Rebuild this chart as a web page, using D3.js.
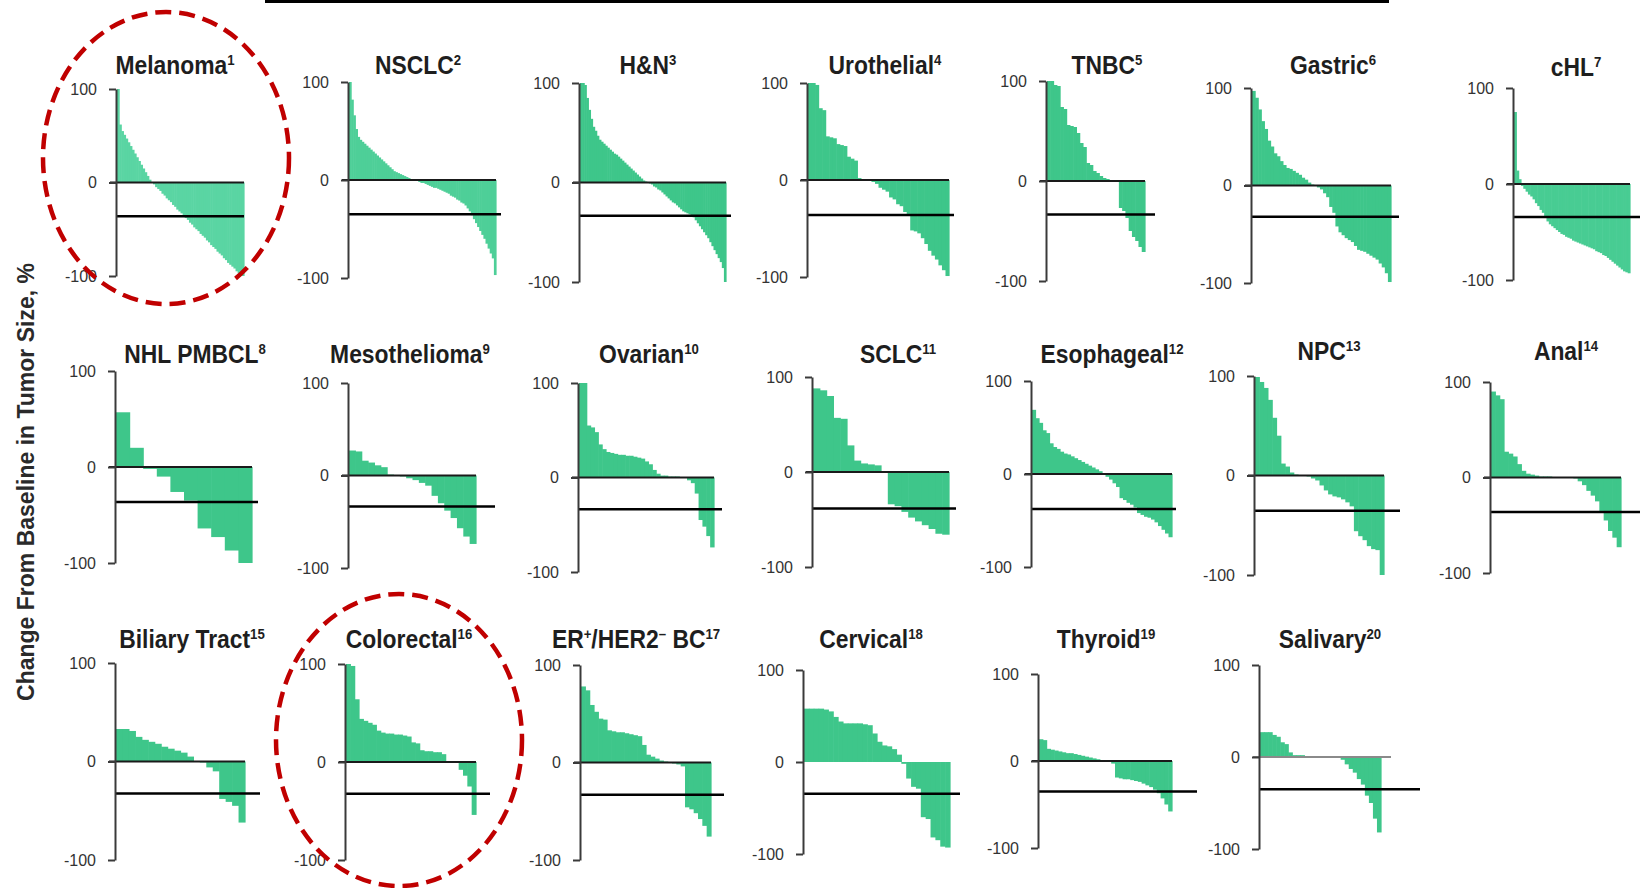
<!DOCTYPE html>
<html>
<head>
<meta charset="utf-8">
<script src="https://cdn.jsdelivr.net/npm/d3@7"></script>
<style>
  body { margin: 0; background: #fff; }
  text { font-family: "Liberation Sans", Arial, sans-serif; }
</style>
</head>
<body>
<div id="chart"></div>
<script>
// Width and height
var chart_width     =   1640;
var chart_height    =   888;
var barColor        =   '#3ec68a';
var ringColor       =   '#c00000';

// Panel titles (^...^ marks a superscript) and reference numbers
var titles = [
    'Melanoma', 'NSCLC', 'H&N', 'Urothelial', 'TNBC', 'Gastric', 'cHL',
    'NHL PMBCL', 'Mesothelioma', 'Ovarian', 'SCLC', 'Esophageal', 'NPC', 'Anal',
    'Biliary Tract', 'Colorectal', 'ER^+^/HER2^\u2013^ BC', 'Cervical', 'Thyroid', 'Salivary'
];
var refs = ['1','2','3','4','5','6','7','8','9','10','11','12','13','14','15','16','17','18','19','20'];
var tickValues = [-100, 0, 100];

// -30% style response line, as drawn in each panel
var thresholds = [-36, -35, -33.5, -36, -33.5, -32, -34.5,
                  -36.5, -33.5, -33.5, -38.5, -37.5, -35.5, -36,
                  -32.5, -32.5, -33, -34.5, -35, -35];

// Best % change per patient, sorted
var melanoma = [100, 62, 55, 51, 47, 43, 39, 35, 31, 27, 23, 19, 15, 11, 7, 3, 0, -2, -5, -7,
    -9, -12, -14, -17, -19, -21, -24, -26, -29, -31, -33, -36, -38, -40, -43, -45, -48, -50, -52, -55,
    -57, -59, -62, -64, -67, -69, -71, -74, -76, -78, -81, -83, -86, -88, -90, -92, -95, -97, -99, -100];
var nsclc = [100, 82, 66, 52, 44, 41, 39, 37, 35, 33, 31, 29, 27, 25, 23, 21, 19, 17, 15, 13,
    11, 9, 8, 7, 6, 5, 4, 3, 2, 1, 0, -1, -1, -2, -3, -3, -4, -5, -6, -7,
    -8, -8, -9, -10, -11, -12, -13, -14, -16, -17, -18, -20, -21, -23, -24, -26, -29, -32, -36, -40,
    -44, -48, -52, -56, -60, -65, -70, -75, -80, -97];
var hn = [100, 100, 98, 85, 73, 64, 56, 52, 47, 43, 41, 39, 37, 35, 33, 31, 29, 28, 26, 24,
    22, 20, 18, 16, 14, 12, 10, 8, 6, 4, 2, 1, 0, -1, -2, -4, -5, -7, -8, -10,
    -12, -14, -16, -18, -20, -21, -23, -25, -27, -29, -30, -31, -32, -33, -35, -38, -41, -44, -47, -50,
    -53, -56, -60, -64, -68, -72, -76, -80, -86, -100];
var urothelial = [100, 100, 98, 74, 72, 45, 44, 43, 37, 36, 35, 24, 22, 20, 2, 1, 0, -1, -2, -4,
    -8, -10, -12, -18, -20, -25, -27, -33, -35, -52, -53, -55, -60, -66, -73, -78, -82, -88, -93, -99];
var tnbc = [100, 100, 96, 95, 74, 72, 56, 55, 54, 48, 38, 34, 18, 16, 10, 8, 5, 3, 2, 1,
    0, -1, -27, -30, -37, -50, -56, -60, -66, -71];
var gastric = [97, 90, 78, 66, 58, 46, 40, 33, 30, 25, 21, 18, 17, 15, 13, 11, 8, 6, 3, 1,
    0, -2, -4, -8, -12, -22, -28, -42, -48, -51, -54, -56, -58, -62, -66, -67, -68, -70, -72, -74,
    -76, -80, -84, -90, -99];
var chl = [75, 14, 5, -2, -5, -8, -11, -13, -16, -20, -23, -27, -30, -35, -39, -42, -44, -46, -48, -50,
    -52, -53, -55, -56, -57, -59, -60, -61, -62, -63, -64, -65, -66, -67, -68, -70, -71, -72, -74, -75,
    -77, -79, -81, -83, -85, -87, -89, -91, -92, -93];
var nhl = [57, 20, -2, -10, -26, -35, -64, -73, -87, -100];
var meso = [27, 26, 16, 14, 11, 9, 1, 0, -1, -3, -5, -8, -11, -22, -30, -38, -46, -57, -66, -74];
var ovarian = [100, 100, 55, 53, 48, 35, 30, 27, 26, 25, 24, 24, 23, 23, 22, 21, 20, 17, 14, 8,
    4, 2, 2, 1, 1, 1, 0, 0, -3, -6, -17, -45, -52, -62, -74];
var sclc = [88, 86, 80, 57, 56, 28, 12, 9, 8, 7, 0, -34, -36, -42, -48, -52, -56, -60, -65, -66];
var esophageal = [69, 60, 55, 47, 44, 33, 29, 27, 24, 22, 21, 19, 17, 15, 13, 11, 9, 7, 5, 3,
    0, -3, -6, -10, -14, -26, -28, -31, -33, -36, -42, -44, -46, -47, -49, -52, -56, -60, -64, -68];
var npc = [99, 94, 88, 76, 58, 40, 12, 9, 3, 1, 0, 0, -1, -3, -5, -10, -15, -19, -21, -22,
    -24, -27, -31, -56, -61, -65, -71, -74, -75, -100];
var anal = [90, 86, 82, 27, 25, 22, 14, 7, 4, 3, 2, 1, 1, 1, 0, 0, 0, 0, 0, -1,
    -4, -8, -14, -19, -25, -35, -45, -56, -63, -73];
var biliary = [33, 33, 31, 25, 22, 20, 18, 15, 13, 11, 9, 5, 0, -1, -6, -10, -38, -41, -45, -62];
var colorectal = [100, 98, 64, 44, 42, 40, 38, 32, 30, 29, 29, 28, 28, 27, 26, 20, 19, 12, 11, 11,
    10, 10, 8, 1, 1, 0, -8, -14, -25, -54];
var erHer2 = [78, 74, 59, 52, 45, 44, 33, 32, 31, 31, 30, 29, 28, 27, 18, 8, 6, 4, 2, 1,
    0, -1, -2, -4, -46, -48, -52, -58, -65, -76];
var cervical = [58, 58, 58, 58, 57, 55, 49, 44, 42, 42, 42, 42, 41, 40, 31, 22, 18, 17, 14, 8,
    -2, -18, -27, -29, -60, -62, -82, -85, -92, -93];
var thyroid = [25, 24, 14, 13, 12, 11, 10, 9, 9, 8, 7, 6, 5, 4, 3, 2, 1, 0, -1, -3,
    -19, -20, -21, -21, -22, -23, -24, -26, -28, -30, -33, -37, -43, -50, -58];
var salivary = [27, 27, 27, 24, 22, 16, 14, 5, 2, 2, 2, 1, 1, 1, 1, 1, 0, 0, 0, 0,
    -3, -8, -13, -17, -24, -30, -42, -50, -67, -82];

var panelValues = [melanoma, nsclc, hn, urothelial, tnbc, gastric, chl,
                   nhl, meso, ovarian, sclc, esophageal, npc, anal,
                   biliary, colorectal, erHer2, cervical, thyroid, salivary];

// Panel placement: axis x, y of +100, y of -100, end of bars, end of response line,
// title centre x, title baseline, zero line style, bar tint
var layout = [
    { x: 116,  top: 89,  bottom: 276, end: 244,  lineEnd: 244,  tx: 175,  ty: 74,  zero: 'dark', fill: '#5ad5a3' },
    { x: 348,  top: 82,  bottom: 278, end: 496,  lineEnd: 501,  tx: 418,  ty: 74,  zero: 'dark', fill: '#4ecf98' },
    { x: 579,  top: 83,  bottom: 282, end: 726,  lineEnd: 731,  tx: 648,  ty: 74,  zero: 'dark' },
    { x: 807,  top: 83,  bottom: 277, end: 949,  lineEnd: 954,  tx: 885,  ty: 74,  zero: 'dark' },
    { x: 1046, top: 81,  bottom: 281, end: 1145, lineEnd: 1155, tx: 1107, ty: 74,  zero: 'dark' },
    { x: 1251, top: 88,  bottom: 283, end: 1391, lineEnd: 1399, tx: 1333, ty: 74,  zero: 'dark' },
    { x: 1513, top: 88,  bottom: 280, end: 1630, lineEnd: 1640, tx: 1576, ty: 76,  zero: 'dark', fill: '#48cc93' },
    { x: 115,  top: 371, bottom: 563, end: 252,  lineEnd: 258,  tx: 195,  ty: 363, zero: 'dark' },
    { x: 348,  top: 383, bottom: 568, end: 476,  lineEnd: 495,  tx: 410,  ty: 363, zero: 'dark' },
    { x: 578,  top: 383, bottom: 572, end: 714,  lineEnd: 722,  tx: 649,  ty: 363, zero: 'dark' },
    { x: 812,  top: 377, bottom: 567, end: 949,  lineEnd: 956,  tx: 898,  ty: 363, zero: 'dark' },
    { x: 1031, top: 381, bottom: 567, end: 1172, lineEnd: 1176, tx: 1112, ty: 363, zero: 'dark' },
    { x: 1254, top: 376, bottom: 575, end: 1384, lineEnd: 1400, tx: 1329, ty: 360, zero: 'dark' },
    { x: 1490, top: 382, bottom: 573, end: 1621, lineEnd: 1640, tx: 1566, ty: 360, zero: 'dark' },
    { x: 115,  top: 663, bottom: 860, end: 245,  lineEnd: 260,  tx: 192,  ty: 648, zero: 'dark' },
    { x: 345,  top: 664, bottom: 860, end: 476,  lineEnd: 490,  tx: 409,  ty: 648, zero: 'dark' },
    { x: 580,  top: 665, bottom: 860, end: 711,  lineEnd: 724,  tx: 636,  ty: 648, zero: 'dark' },
    { x: 803,  top: 670, bottom: 854, end: 950,  lineEnd: 960,  tx: 871,  ty: 648, zero: 'none' },
    { x: 1038, top: 674, bottom: 848, end: 1172, lineEnd: 1197, tx: 1106, ty: 648, zero: 'dark' },
    { x: 1259, top: 665, bottom: 849, end: 1381, lineEnd: 1420, tx: 1330, ty: 648, zero: 'grey' }
];

// Red dashed rings round two panels
var rings = [
    { cx: 166, cy: 158, rx: 123, ry: 146 },
    { cx: 399, cy: 740, rx: 123, ry: 146 }
];

// Create SVG
var svg             =   d3.select('#chart')
    .append('svg')
    .attr('width', chart_width)
    .attr('height', chart_height);

svg.append('rect')
    .attr('width', chart_width)
    .attr('height', chart_height)
    .attr('fill', '#fff');

// black rule at the very top
svg.append('rect')
    .attr('x', 265)
    .attr('y', 0)
    .attr('width', 1124)
    .attr('height', 3)
    .attr('fill', '#000');

layout.forEach(function(p, i){
    var vals = panelValues[i];

    var y = d3.scaleLinear()
        .domain([-100, 100])
        .range([p.bottom, p.top]);

    var x = d3.scaleBand()
        .domain(d3.range(vals.length))
        .range([p.x + 1, p.end])
        .padding(0);

    var g = svg.append('g').attr('class', 'panel');

    g.selectAll('rect')
        .data(vals)
        .enter()
        .append('rect')
        .attr('x', function(d, j){ return x(j); })
        .attr('width', x.bandwidth() + 0.6)
        .attr('y', function(d){ return Math.min(y(d), y(0)); })
        .attr('height', function(d){ return Math.abs(y(d) - y(0)); })
        .attr('fill', p.fill || barColor);

    if (p.zero !== 'none') {
        g.append('line')
            .attr('x1', p.x - 6)
            .attr('x2', p.zero === 'grey' ? p.end + 10 : p.end)
            .attr('y1', y(0))
            .attr('y2', y(0))
            .attr('stroke', p.zero === 'grey' ? '#8a8a8a' : '#1a1a1a')
            .attr('stroke-width', 2);
    }

    g.append('line')
        .attr('x1', p.x)
        .attr('x2', p.lineEnd)
        .attr('y1', y(thresholds[i]))
        .attr('y2', y(thresholds[i]))
        .attr('stroke', '#000')
        .attr('stroke-width', 2.5);

    var axis = g.append('g')
        .attr('transform', 'translate(' + p.x + ',0)')
        .call(d3.axisLeft(y)
            .tickValues(tickValues)
            .tickSizeInner(7)
            .tickSizeOuter(0)
            .tickPadding(12)
            .tickFormat(function(d){ return String(d); }));

    axis.select('.domain')
        .attr('stroke', '#3a3a3a')
        .attr('stroke-width', 2);
    axis.selectAll('.tick line')
        .attr('stroke', '#3a3a3a')
        .attr('stroke-width', 2);
    axis.selectAll('.tick text')
        .attr('fill', '#333')
        .style('font-size', '16px')
        .style('font-family', '"Liberation Sans", Arial, sans-serif');

    // title with superscripts
    var title = g.append('g')
        .attr('transform', 'translate(' + p.tx + ',' + p.ty + ') scale(0.88,1)')
        .append('text')
        .attr('text-anchor', 'middle')
        .attr('fill', '#1e1e1e')
        .style('font-size', '26px')
        .style('font-weight', 'bold')
        .style('white-space', 'pre');

    var parts = titles[i].split('^');
    var raised = false;
    parts.forEach(function(s, k){
        if (s === '') return;
        var sup = (k % 2 === 1);
        var t = title.append('tspan').text(s);
        if (sup) {
            t.style('font-size', '15px');
            if (!raised) { t.attr('dy', -9); raised = true; }
        } else if (raised) {
            t.attr('dy', 9); raised = false;
        }
    });
    title.append('tspan')
        .attr('dy', raised ? 0 : -9)
        .style('font-size', '15px')
        .text(refs[i]);
});

// y axis label
svg.append('text')
    .attr('transform', 'translate(34,482) rotate(-90)')
    .attr('text-anchor', 'middle')
    .attr('fill', '#2a2a2a')
    .style('font-size', '23px')
    .style('font-weight', 'bold')
    .text('Change From Baseline in Tumor Size, %');

svg.selectAll('ellipse.ring')
    .data(rings)
    .enter()
    .append('ellipse')
    .attr('class', 'ring')
    .attr('cx', function(d){ return d.cx; })
    .attr('cy', function(d){ return d.cy; })
    .attr('rx', function(d){ return d.rx; })
    .attr('ry', function(d){ return d.ry; })
    .attr('fill', 'none')
    .attr('stroke', ringColor)
    .attr('stroke-width', 4.5)
    .attr('stroke-dasharray', '16,8');
</script>
</body>
</html>
